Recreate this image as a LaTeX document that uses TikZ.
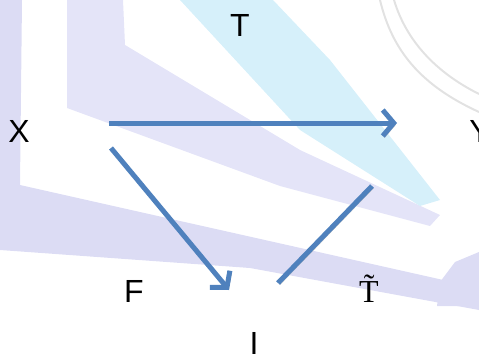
\documentclass[tikz,border=0pt]{standalone}
\usepackage{fontspec}
\setmainfont{Liberation Sans}
\newfontfamily\serifT{Liberation Serif}
\usetikzlibrary{arrows.meta}
\definecolor{dgblue}{HTML}{4F81BD}
\definecolor{dgshade}{HTML}{B4B4B4}
\definecolor{dglav}{HTML}{DCDCF4}
\definecolor{dglavl}{HTML}{E4E4F8}
\definecolor{dgsky}{HTML}{D6F0FA}
\definecolor{dgarc}{HTML}{E2E2E2}
\tikzset{
  lbl/.style    = {font=\fontsize{32}{38}\selectfont, inner sep=0pt, text=black},
  shade/.style  = {preaction={draw=dgshade, transform canvas={shift={(1.8pt,-1.8pt)}}}},
  link/.style   = {draw=dgblue, line width=5pt, shade},
  flow/.style   = {link, -{Straight Barb[length=11pt,width=26pt,line width=5pt]}},
  swoosh/.style = {fill=dglav, draw=none},
}

\begin{document}
\begin{tikzpicture}[x=1pt, y=-1pt]

  \useasboundingbox (0,0) rectangle (479,356);

  % background swooshes
  \fill[swoosh] (0,0) -- (22,0) -- (20,185) -- (140,212) -- (479,288) --
      (479,310) -- (250,268) -- (0,250) -- cycle;
  \fill[swoosh, fill=dglavl] (67,0) -- (123,0) -- (125,45) -- (300,150) --
      (440,215) -- (430,226) -- (280,186) -- (67,108) -- cycle;
  \fill[swoosh, fill=dgsky] (180,0) -- (273,0) -- (330,60) -- (440,200) --
      (420,206) -- (300,130) -- cycle;
  \fill[swoosh] (479,252) -- (455,262) -- (440,282) -- (437,306) -- (479,306) -- cycle;
  \draw[dgarc, line width=2pt] (380,0) .. controls (392,50) and (420,85) .. (479,112);
  \draw[dgarc, line width=2pt] (394,0) .. controls (406,40) and (435,72) .. (479,94);

  % labels
  \node[lbl] (t)  at (240,25)  {T};
  \node[lbl] (x)  at (19,131)  {X};
  \node[lbl] (y)  at (480,131) {Y};
  \node[lbl] (f)  at (134,291) {F};
  \node[lbl] (tt) at (369,289) {\serifT\~T};
  \node[lbl] (i)  at (254,343) {I};

  % arrow ends
  \coordinate (xy-a) at (109,123);
  \coordinate (xy-b) at (397,123);
  \coordinate (xi-a) at (111,148);
  \coordinate (xi-b) at (229,290);
  \coordinate (yi-a) at (372,186);
  \coordinate (yi-b) at (278,283);

  \draw[flow] (xy-a) -- (xy-b);
  \draw[flow] (xi-a) -- (xi-b);
  \draw[link] (yi-a) -- (yi-b);

\end{tikzpicture}
\end{document}
